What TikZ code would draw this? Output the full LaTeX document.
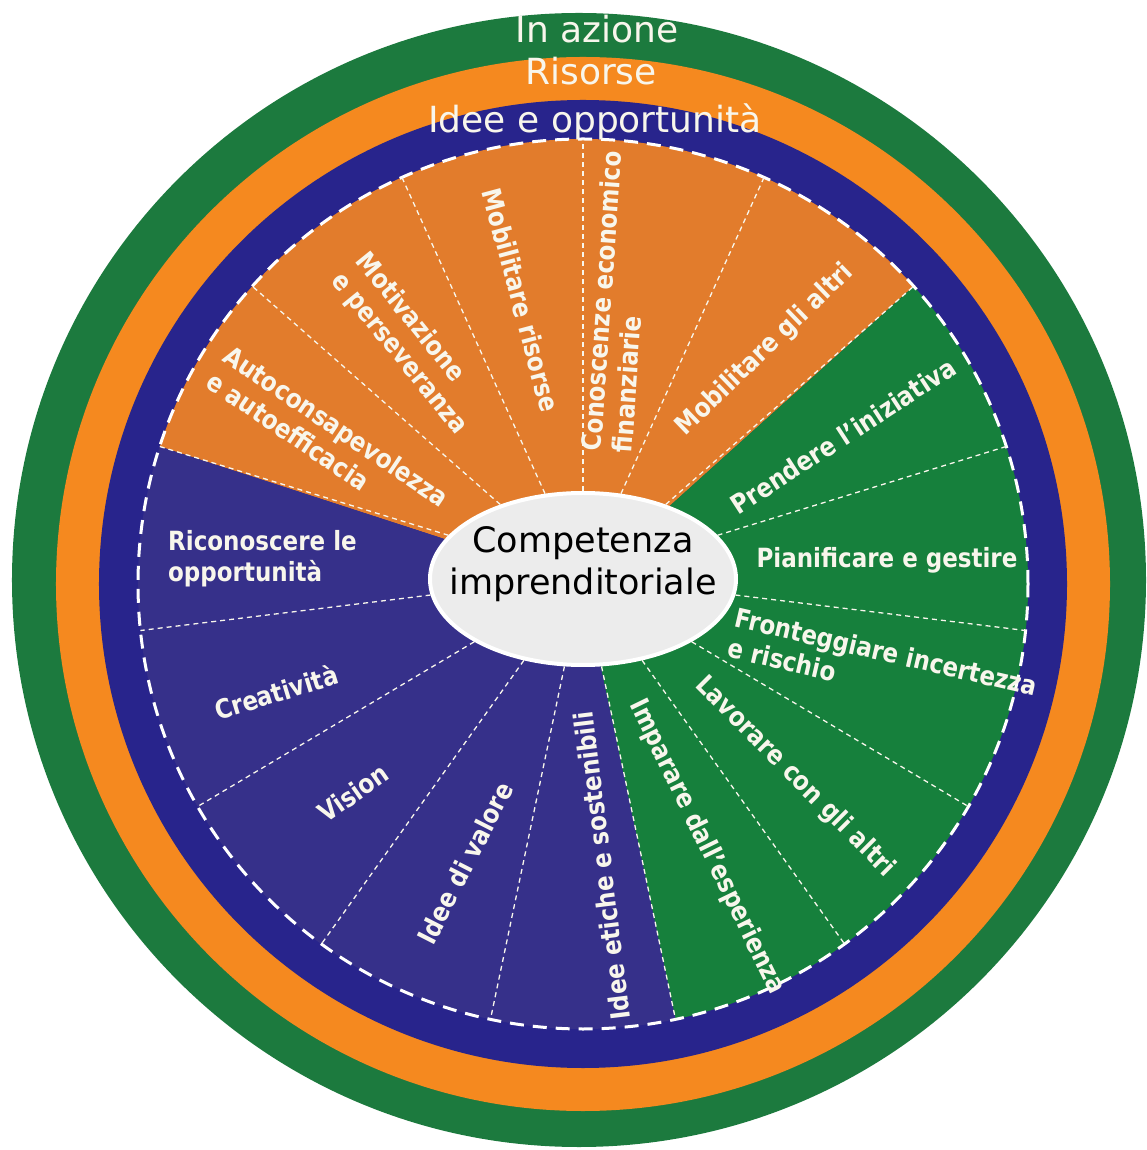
\documentclass[tikz,border=0pt]{standalone}
\usepackage{fontspec}
\setmainfont{DejaVu Sans}
\usetikzlibrary{shapes.geometric}
\definecolor{gring}{RGB}{28,122,62}
\definecolor{oring}{RGB}{245,137,31}
\definecolor{bring}{RGB}{40,36,140}
\definecolor{osec}{RGB}{226,124,44}
\definecolor{bsec}{RGB}{54,48,138}
\definecolor{gsec}{RGB}{22,128,60}
\definecolor{labw}{RGB}{248,246,236}
\definecolor{ellf}{RGB}{236,236,236}
\tikzset{
  lab/.style={text=labw, font=\fontsize{23}{27}\selectfont\bfseries, align=left, inner sep=0pt, rotate=#1, yscale=1.15},
  lab/.default=0,
  divline/.style={draw=labw, line width=1.3pt, dash pattern=on 5pt off 4pt},
  ringlab/.style={text=labw, font=\fontsize{36}{40}\selectfont, anchor=base, inner sep=0pt},
}
\begin{document}
\begin{tikzpicture}[x=1pt,y=1pt]
\useasboundingbox (-583,-566) rectangle (564,584);
% rings
\fill[gring] (-4,4) circle[radius=567pt];
\fill[oring] (0,0) circle[radius=527pt];
\fill[bring] (0,0) circle[radius=484pt];
% sectors
\fill[osec] (0,0) -- (42:445pt) arc[start angle=42, end angle=162, radius=445pt] -- cycle;
\fill[gsec] (0,0) -- (-78:445pt) arc[start angle=-78, end angle=42, radius=445pt] -- cycle;
\fill[bsec] (0,0) -- (162:445pt) arc[start angle=162, end angle=282, radius=445pt] -- cycle;
\draw[white, line width=3pt, dash pattern=on 14pt off 9pt] (0,0) circle[radius=445pt];
% centre
\node[ellipse, minimum width=306pt, minimum height=172pt, fill=ellf, draw=white, line width=4pt] (c) at (0,5) {};
\foreach \a in {42,66,90,114,138,162,186,210,234,258,282,306,330,354,18}
  \draw[divline] (c.\a) -- (\a:445pt);
\node[text=black, font=\fontsize{35}{42}\selectfont, align=center, inner sep=0pt] (ctext) at (0,20) {Competenza\\imprenditoriale};
% ring labels
\node[ringlab] (r1) at (14,541) {In azione};
\node[ringlab] (r2) at (8,499) {Risorse};
\node[ringlab] (r3) at (12,451) {Idee e opportunità};
% orange labels
\node[lab=-34] (l1) at (-255,145) {Autoconsapevolezza\\e autoefficacia};
\node[lab=-51] (l2) at (-172,240) {Motivazione\\e perseveranza};
\node[lab=-75] (l3) at (-62,284) {Mobilitare risorse};
\node[lab=86] (l4) at (34,282) {Conoscenze economico\\finanziarie};
\node[lab=44] (l5) at (182,234) {Mobilitare gli altri};
% green labels
\node[lab=33] (l6) at (260,148) {Prendere l'iniziativa};
\node[lab] (l7) at (304,24) {Pianificare e gestire};
\node[lab=-13] (l8) at (300,-83) {Fronteggiare incertezza\\e rischio};
\node[lab=-45] (l9) at (212,-193) {Lavorare con gli altri};
\node[lab=-64] (l10) at (124,-263) {Imparare dall'esperienza};
% blue labels
\node[lab, anchor=west] (l11) at (-415,25) {Riconoscere le\\opportunità};
\node[lab=17] (l12) at (-307,-108) {Creatività};
\node[lab=35] (l13) at (-230,-209) {Vision};
\node[lab=63] (l14) at (-118,-279) {Idee di valore};
\node[lab=97] (l15) at (19,-282) {Idee etiche e sostenibili};
\end{tikzpicture}
\end{document}
